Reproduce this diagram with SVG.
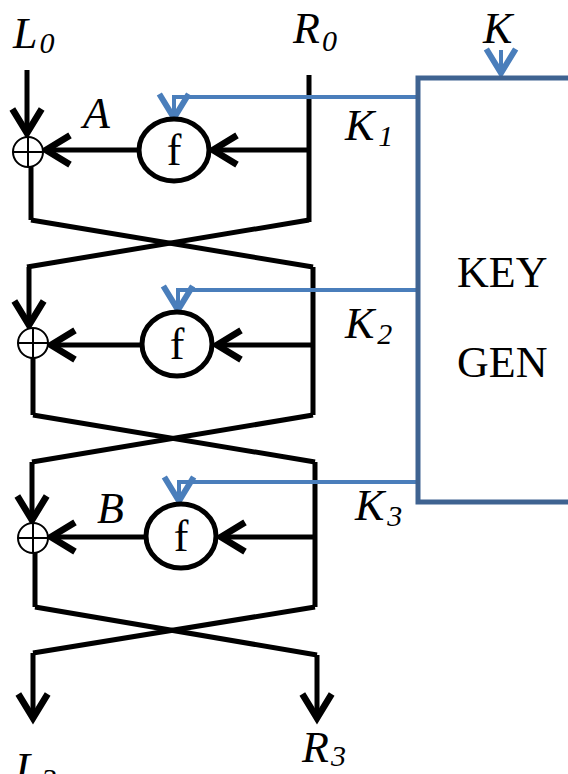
<svg xmlns="http://www.w3.org/2000/svg" width="568" height="774" viewBox="0 0 568 774">
<defs>
<style>
.ln{fill:none;stroke:#000;stroke-width:5;stroke-linejoin:miter}
.bl{fill:none;stroke:#4A7EBB;stroke-width:4}
.box{fill:none;stroke:#3F6391;stroke-width:5}
.f{fill:#fff;stroke:#000;stroke-width:5}
.x{fill:#fff;stroke:#000;stroke-width:2}
.xp{stroke:#000;stroke-width:2}
text{font-family:"Liberation Serif","Times New Roman",serif;font-size:44px;fill:#000}
.it{font-style:italic}
.sub{font-size:30px}
</style>
<marker id="ah" markerUnits="userSpaceOnUse" markerWidth="40" markerHeight="40" viewBox="-25 -15 30 30" refX="0" refY="0" orient="auto" overflow="visible">
<path d="M-18,-11 L0,0 L-18,11" fill="none" stroke="#000" stroke-width="5"/>
</marker>
<marker id="ahb" markerUnits="userSpaceOnUse" markerWidth="40" markerHeight="40" viewBox="-25 -15 30 30" refX="0" refY="0" orient="auto" overflow="visible">
<path d="M-18,-11 L0,0 L-18,11" fill="none" stroke="#4A7EBB" stroke-width="4.5"/>
</marker>
</defs>

<g id="connectors">
<line class="ln" x1="27" y1="70" x2="27" y2="133" marker-end="url(#ah)"/>
<line class="ln" x1="139" y1="150" x2="46" y2="150" marker-end="url(#ah)"/>
<line class="ln" x1="309" y1="75" x2="309" y2="222"/>
<line class="ln" x1="309" y1="150" x2="213" y2="150" marker-end="url(#ah)"/>
<line class="ln" x1="31" y1="167" x2="31" y2="220"/>
<polyline class="ln" points="31,220 313,267"/>
<polyline class="ln" points="309,220 27,267"/>
<line class="ln" x1="29" y1="267" x2="29" y2="325" marker-end="url(#ah)"/>
<line class="ln" x1="141" y1="345" x2="51" y2="345" marker-end="url(#ah)"/>
<line class="ln" x1="313" y1="267" x2="313" y2="415"/>
<line class="ln" x1="313" y1="345" x2="217" y2="345" marker-end="url(#ah)"/>
<line class="ln" x1="33" y1="358" x2="33" y2="415"/>
<polyline class="ln" points="33,415 315,462"/>
<polyline class="ln" points="313,415 32,462"/>
<line class="ln" x1="32" y1="462" x2="32" y2="520" marker-end="url(#ah)"/>
<line class="ln" x1="145" y1="537" x2="51" y2="537" marker-end="url(#ah)"/>
<line class="ln" x1="315" y1="462" x2="315" y2="607"/>
<line class="ln" x1="315" y1="537" x2="221" y2="537" marker-end="url(#ah)"/>
<line class="ln" x1="35" y1="553" x2="35" y2="607"/>
<polyline class="ln" points="35,607 317,655"/>
<polyline class="ln" points="315,607 33,653"/>
<line class="ln" x1="33" y1="653" x2="33" y2="718" marker-end="url(#ah)"/>
<line class="ln" x1="317" y1="655" x2="317" y2="718" marker-end="url(#ah)"/>
<polyline class="bl" points="416,97 174,97 174,118" marker-end="url(#ahb)"/>
<polyline class="bl" points="416,290 178,290 178,310" marker-end="url(#ahb)"/>
<polyline class="bl" points="416,482 179,482 179,501" marker-end="url(#ahb)"/>
<line class="bl" x1="501" y1="50" x2="501" y2="73" marker-end="url(#ahb)"/>
</g>

<g id="keygen">
<polyline class="box" points="568,78 418,78 418,502 568,502"/>
<text x="457" y="287">KEY</text>
<text x="457" y="377">GEN</text>
</g>

<g id="f1"><ellipse class="f" cx="174" cy="150" rx="35" ry="31"/><text x="174" y="165" text-anchor="middle" font-size="46">f</text></g>
<g id="f2"><ellipse class="f" cx="177" cy="344" rx="35" ry="32"/><text x="177" y="359" text-anchor="middle" font-size="46">f</text></g>
<g id="f3"><ellipse class="f" cx="181" cy="536" rx="35" ry="32"/><text x="181" y="551" text-anchor="middle" font-size="46">f</text></g>

<g id="xor1"><circle class="x" cx="28" cy="152" r="15"/><path class="xp" d="M13,152H43M28,137V167"/></g>
<g id="xor2"><circle class="x" cx="33" cy="343" r="15"/><path class="xp" d="M18,343H48M33,328V358"/></g>
<g id="xor3"><circle class="x" cx="33" cy="538" r="15"/><path class="xp" d="M18,538H48M33,523V553"/></g>

<g id="labels">
<text class="it" x="13" y="48">L<tspan class="sub" dy="5" dx="2">0</tspan></text>
<text class="it" x="293" y="43">R<tspan class="sub" dy="8" dx="2">0</tspan></text>
<text class="it" x="483" y="43">K</text>
<text class="it" x="345" y="140">K<tspan class="sub" dy="6" dx="4">1</tspan></text>
<text class="it" x="345" y="338">K<tspan class="sub" dy="6" dx="3">2</tspan></text>
<text class="it" x="355" y="520">K<tspan class="sub" dy="6" dx="3">3</tspan></text>
<text class="it" x="83" y="128">A</text>
<text class="it" x="97" y="523">B</text>
<text class="it" x="15" y="783">L<tspan class="sub" dy="6" dx="2">3</tspan></text>
<text class="it" x="302" y="762">R<tspan class="sub" dy="4" dx="2">3</tspan></text>
</g>
</svg>
